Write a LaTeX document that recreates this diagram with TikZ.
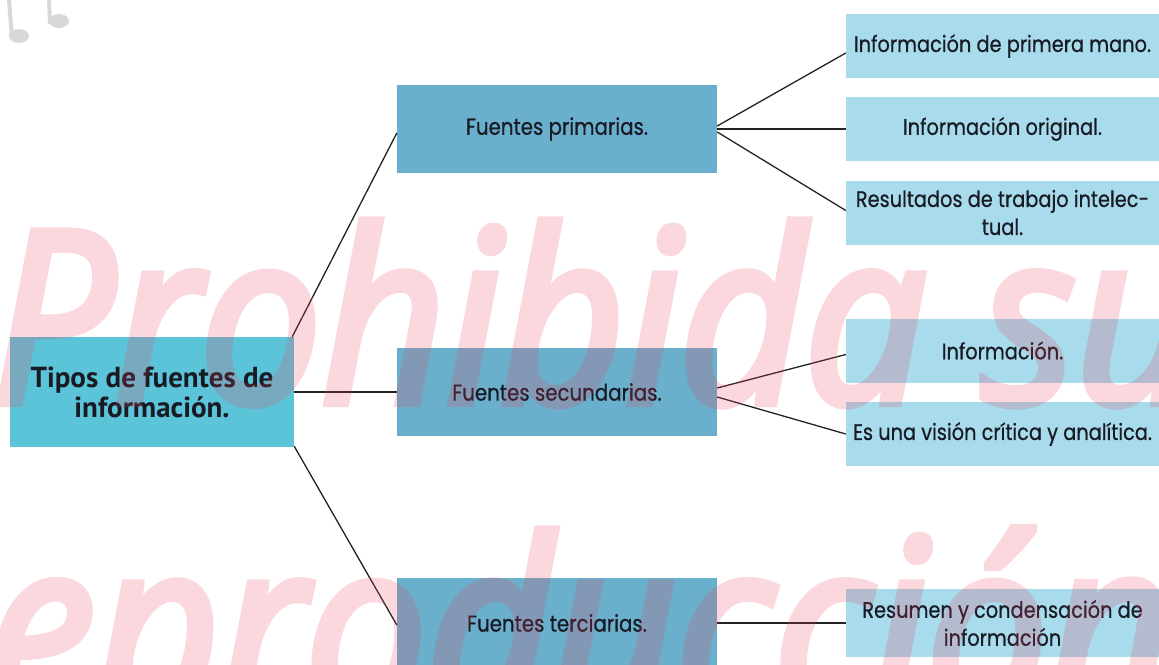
\documentclass[tikz,border=0pt]{standalone}
\usepackage{fontspec}
\setmainfont{Poppins}[FakeStretch=0.86,FakeBold=0.5]
\newfontfamily\titlefont{PT Sans}
\newfontfamily\wmfont{Open Sans}[FakeStretch=0.9,FakeBold=3.5]
\usetikzlibrary{calc}
\definecolor{maincol}{RGB}{92,196,216}
\definecolor{midcol}{RGB}{106,175,203}
\definecolor{leafcol}{RGB}{168,219,235}
\definecolor{txtcol}{RGB}{24,26,36}
\definecolor{linecol}{RGB}{34,34,34}
\definecolor{wmcol}{RGB}{232,62,92}
\definecolor{notecol}{RGB}{216,216,216}
\tikzset{
  box/.style={inner sep=0pt, align=center, text=txtcol},
  mainbox/.style={box, fill=maincol, minimum width=284pt, minimum height=110pt,
    font=\titlefont\bfseries\fontsize{29}{30}\selectfont},
  midbox/.style={box, fill=midcol, minimum width=320pt, minimum height=88pt,
    font=\fontsize{23}{28}\selectfont},
  leafbox/.style={box, fill=leafcol, minimum width=313pt, minimum height=64pt,
    font=\fontsize{22.5}{28}\selectfont},
  conn/.style={draw=linecol, line width=1.3pt},
  wm/.style={anchor=base west, text=wmcol, inner sep=0pt,
    font=\wmfont\itshape\fontsize{240}{240}\selectfont}
}
\begin{document}
\begin{tikzpicture}[x=1pt,y=-1pt]
\useasboundingbox (0,0) rectangle (1159,664);
\clip (0,0) rectangle (1159,664);
% music notes decoration
\fill[notecol] (7,0) -- (11,0) -- (14,38) -- (10,38) -- cycle;
\fill[notecol] (19,36) ellipse (10pt and 7pt);
\fill[notecol] (47,0) -- (51,0) -- (52,24) -- (48,24) -- cycle;
\fill[notecol] (59,21) ellipse (10pt and 7pt);
% nodes
\node[mainbox] (main) at (152,392) {Tipos de fuentes de\\información.};
\node[midbox] (prim) at (557,129) {Fuentes primarias.};
\node[midbox] (sec) at (557,392) {Fuentes secundarias.};
\node[midbox, minimum height=90pt] (terc) at (557,623) {Fuentes terciarias.};
\node[leafbox] (l1) at (1002.5,46) {Información de primera mano.};
\node[leafbox] (l2) at (1002.5,129) {Información original.};
\node[leafbox] (l3) at (1002.5,212.5) {Resultados de trabajo intelec-\\tual.};
\node[leafbox] (l4) at (1002.5,350.5) {Información.};
\node[leafbox] (l5) at (1002.5,434) {Es una visión crítica y analítica.};
\node[leafbox, minimum height=68pt] (l6) at (1002.5,623) {Resumen y condensación de\\información};
% connectors
\draw[conn] ($(main.north east)+(-2,0)$) -- ($(prim.west)+(0,4)$);
\draw[conn] (main.east) -- (sec.west);
\draw[conn] ($(main.south east)+(0,-1)$) -- ($(terc.west)+(0,2)$);
\draw[conn] ($(prim.east)+(0,-3)$) -- ($(l1.west)+(0,7)$);
\draw[conn] (prim.east) -- (l2.west);
\draw[conn] ($(prim.east)+(0,3)$) -- ($(l3.west)+(0,-2)$);
\draw[conn] ($(sec.east)+(0,-4)$) -- ($(l4.west)+(0,4)$);
\draw[conn] ($(sec.east)+(0,5)$) -- (l5.west);
\draw[conn] (terc.east) -- (l6.west);
% watermark
\begin{scope}[transparency group, opacity=0.2]
\node[wm] (wm1) at (-8,403) {Prohibida su};
\node[wm] (wm2) at (-98,712) {reproducción};
\end{scope}
\end{tikzpicture}
\end{document}
